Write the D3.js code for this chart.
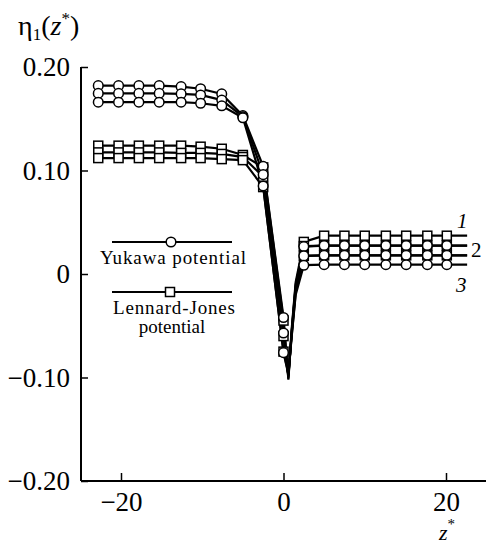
<!DOCTYPE html>
<html>
<head>
<meta charset="utf-8">
<script src="https://cdn.jsdelivr.net/npm/d3@7"></script>
<style>
  body { margin: 0; background: #fff; }
  svg text { font-family: "Liberation Serif", "DejaVu Serif", serif !important; fill: #000; }
</style>
</head>
<body>
<script>
var w = 486;
var h = 544;

// z* positions of the computed points (some in the dip carry no marker)
var zValues = [-22.8, -20.3, -17.8, -15.3, -12.6, -10.2, -7.6, -5.0, -2.5,
    0, 0.6, 1.0, 1.5, 2.5, 5.0, 7.5, 10.0, 12.6, 15.1, 17.7, 20.1, 22.6];
var hasMarker = [1, 1, 1, 1, 1, 1, 1, 1, 1, 1, 0, 0, 0, 1, 1, 1, 1, 1, 1, 1, 1, 0];

// Yukawa potential, curves 1-3
var yukawa1 = [0.182, 0.182, 0.182, 0.182, 0.181, 0.179, 0.174, 0.153, 0.104,
    -0.042, -0.102, -0.056, -0.010, 0.0265, 0.0275, 0.0275, 0.0275, 0.0275, 0.0275, 0.0275, 0.0275, 0.0275];
var yukawa2 = [0.1745, 0.1745, 0.1745, 0.1745, 0.174, 0.173, 0.168, 0.152, 0.096,
    -0.057, -0.099, -0.058, -0.014, 0.0175, 0.018, 0.018, 0.018, 0.018, 0.018, 0.018, 0.018, 0.018];
var yukawa3 = [0.166, 0.166, 0.166, 0.166, 0.166, 0.165, 0.1625, 0.151, 0.085,
    -0.076, -0.097, -0.061, -0.020, 0.0085, 0.009, 0.009, 0.009, 0.009, 0.009, 0.009, 0.009, 0.009];

// Lennard-Jones potential, curves 1-3
var lj1 = [0.124, 0.124, 0.124, 0.124, 0.124, 0.123, 0.121, 0.115, 0.103,
    -0.045, -0.101, -0.054, -0.008, 0.031, 0.037, 0.037, 0.037, 0.037, 0.037, 0.037, 0.037, 0.037];
var lj2 = [0.1175, 0.1175, 0.1175, 0.1175, 0.117, 0.117, 0.116, 0.113, 0.094,
    -0.060, -0.098, -0.057, -0.012, 0.027, 0.0275, 0.0275, 0.0275, 0.0275, 0.0275, 0.0275, 0.0275, 0.0275];
var lj3 = [0.112, 0.112, 0.112, 0.112, 0.112, 0.112, 0.111, 0.110, 0.084,
    -0.075, -0.096, -0.060, -0.018, 0.0175, 0.018, 0.018, 0.018, 0.018, 0.018, 0.018, 0.018, 0.018];

var xTicks = [-20, 0, 20];
var xTickLabels = ["\u221220", "0", "20"];
var yTicks = [0.20, 0.10, 0, -0.10, -0.20];
var yTickLabels = ["0.20", "0.10", "0", "\u22120.10", "\u22120.20"];
var curveLabels = ["1", "2", "3"];

var xScale = d3.scaleLinear().domain([-20, 20]).range([121, 446]);
var yScale = d3.scaleLinear().domain([-0.2, 0.2]).range([481, 67]);

var toPoints = vals => vals.map((v, i) => ({ z: zValues[i], v: v, m: hasMarker[i] }));

var yukawaSeries = [yukawa1, yukawa2, yukawa3].map(toPoints);
var ljSeries = [lj1, lj2, lj3].map(toPoints);

var svg = d3.select("body")
    .append("svg")
    .attr("width", w)
    .attr("height", h);

// axes
var xAxis = d3.axisBottom(xScale)
    .tickValues(xTicks)
    .tickSize(-8)
    .tickFormat((d, i) => xTickLabels[i]);

var yAxis = d3.axisLeft(yScale)
    .tickValues(yTicks)
    .tickSize(-7)
    .tickFormat((d, i) => yTickLabels[i]);

var gx = svg.append("g")
    .attr("transform", `translate(0,${yScale(-0.2)})`)
    .call(xAxis)
    .attr("font-family", null)
    .attr("font-size", null);
gx.select(".domain").attr("d", `M81,0H486`);

var gy = svg.append("g")
    .attr("transform", `translate(81,0)`)
    .call(yAxis)
    .attr("font-family", null)
    .attr("font-size", null);
gy.select(".domain").attr("d", `M0,${yScale(0.2)}V${yScale(-0.2)}`);

svg.selectAll(".domain").attr("stroke", "#000").attr("stroke-width", 2);
svg.selectAll(".tick line").attr("stroke", "#000").attr("stroke-width", 1.5);
svg.selectAll(".tick text")
    .style("font-size", "27px")
    .attr("fill", "#000");
gx.selectAll(".tick text").attr("y", 11);
gy.selectAll(".tick text").attr("x", -11);

// lines
var line = d3.line()
    .x(d => xScale(d.z))
    .y(d => yScale(d.v));

svg.selectAll(".ljline")
    .data(ljSeries)
    .enter()
    .append("path")
    .attr("class", "ljline")
    .attr("d", line)
    .attr("fill", "none")
    .attr("stroke", "#000")
    .attr("stroke-width", 2.2);

svg.selectAll(".ykline")
    .data(yukawaSeries)
    .enter()
    .append("path")
    .attr("class", "ykline")
    .attr("d", line)
    .attr("fill", "none")
    .attr("stroke", "#000")
    .attr("stroke-width", 2.2);

// markers
var sq = 9;
var ljMarks = ljSeries.flat().filter(d => d.m);
svg.selectAll(".sq")
    .data(ljMarks)
    .enter()
    .append("rect")
    .attr("class", "sq")
    .attr("x", d => xScale(d.z) - sq / 2)
    .attr("y", d => yScale(d.v) - sq / 2)
    .attr("width", sq)
    .attr("height", sq)
    .attr("fill", "#fff")
    .attr("stroke", "#000")
    .attr("stroke-width", 1.5);

var ykMarks = yukawaSeries.flat().filter(d => d.m);
svg.selectAll(".circ")
    .data(ykMarks)
    .enter()
    .append("circle")
    .attr("class", "circ")
    .attr("cx", d => xScale(d.z))
    .attr("cy", d => yScale(d.v))
    .attr("r", 4.8)
    .attr("fill", "#fff")
    .attr("stroke", "#000")
    .attr("stroke-width", 1.5);

// curve numbers at the right
var lbl = svg.append("g").style("font-size", "21px");
lbl.append("text").attr("x", 457).attr("y", 228).style("font-style", "italic").text(curveLabels[0]);
lbl.append("text").attr("x", 471).attr("y", 257).text(curveLabels[1]);
lbl.append("text").attr("x", 456).attr("y", 292).style("font-style", "italic").text(curveLabels[2]);

// legend
var legend = svg.append("g").style("font-size", "19px");
legend.append("line")
    .attr("x1", 112).attr("x2", 232).attr("y1", 242).attr("y2", 242)
    .attr("stroke", "#000").attr("stroke-width", 2);
legend.append("circle")
    .attr("cx", 171).attr("cy", 242).attr("r", 4.8)
    .attr("fill", "#fff").attr("stroke", "#000").attr("stroke-width", 1.5);
legend.append("text")
    .attr("x", 173).attr("y", 264)
    .attr("text-anchor", "middle")
    .attr("textLength", 146)
    .text("Yukawa potential");

legend.append("line")
    .attr("x1", 112).attr("x2", 232).attr("y1", 292).attr("y2", 292)
    .attr("stroke", "#000").attr("stroke-width", 2);
legend.append("rect")
    .attr("x", 170 - sq / 2).attr("y", 292 - sq / 2).attr("width", sq).attr("height", sq)
    .attr("fill", "#fff").attr("stroke", "#000").attr("stroke-width", 1.5);
legend.append("text")
    .attr("x", 174).attr("y", 314)
    .attr("text-anchor", "middle")
    .attr("textLength", 122)
    .text("Lennard-Jones");
legend.append("text")
    .attr("x", 172).attr("y", 333)
    .attr("text-anchor", "middle")
    .text("potential");

// axis titles
var yTitle = svg.append("text")
    .attr("x", 18).attr("y", 35)
    .style("font-size", "28px");
yTitle.append("tspan").text("\u03b7");
yTitle.append("tspan").attr("dy", 5).style("font-size", "17px").text("1");
yTitle.append("tspan").attr("dy", -5).text("(");
yTitle.append("tspan").style("font-style", "italic").text("z");
yTitle.append("tspan").attr("dy", -11).style("font-size", "17px").text("*");
yTitle.append("tspan").attr("dy", 11).text(")");

var xTitle = svg.append("text")
    .attr("x", 439).attr("y", 540)
    .style("font-size", "22px");
xTitle.append("tspan").style("font-style", "italic").text("z");
xTitle.append("tspan").attr("dy", -11).style("font-size", "15px").text("*");
</script>
</body>
</html>
